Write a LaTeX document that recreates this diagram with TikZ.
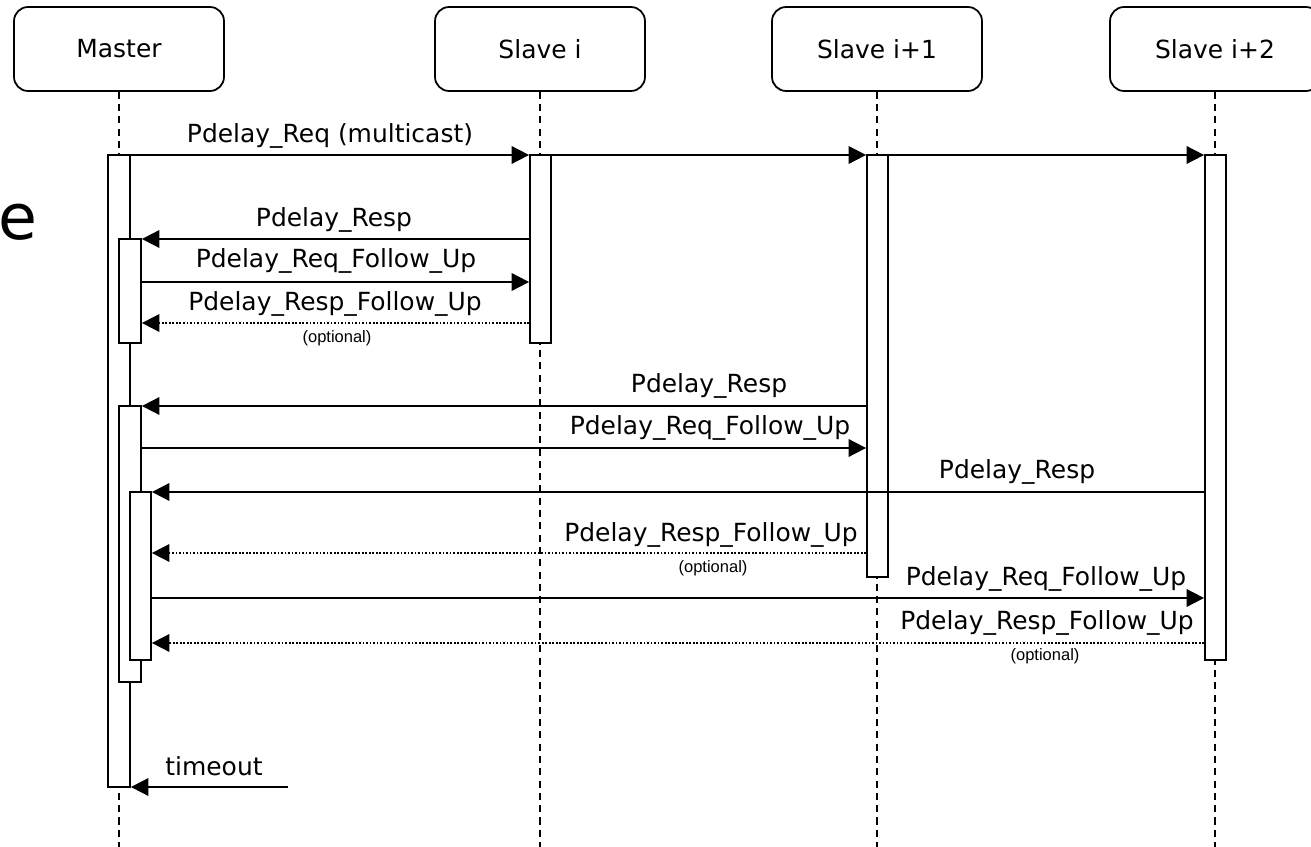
\documentclass[tikz,border=0pt]{standalone}
\usepackage{fontspec}
\setmainfont{DejaVu Sans}
\newfontfamily\optfont{Liberation Sans}
\usetikzlibrary{arrows.meta, fit, math}

\newcommand\msgfont{\fontsize{14.2}{17}\selectfont}

\tikzset{
  head/.style={draw, rounded corners=8pt, minimum width=4.2cm, minimum height=1.68cm, font=\msgfont},
  life/.style={line width=0.8pt, dash pattern=on 4pt off 3pt},
  act/.style={draw, fill=white, inner sep=0pt},
  opt/.style={densely dotted},
  lbl/.style={anchor=base, inner sep=0pt, font=\msgfont},
  note/.style={inner sep=0pt, font=\optfont\fontsize{9.4}{11}\selectfont}
}

\begin{document}
\begin{tikzpicture}[x=0.02cm, y=-0.02cm, >={Triangle[length=10pt,width=10pt]}, line width=1pt]

\tikzmath{
  \xm = 119; \xa = 540; \xb = 877; \xc = 1215;
  \ybot = 847;
}

\useasboundingbox (0,0) rectangle (1311,\ybot);

\node[head] (master) at (\xm,49) {Master};
\node[head] (slavei) at (\xa,49) {Slave i};
\node[head] (slaveii) at (\xb,49) {Slave i+1};
\node[head] (slaveiii) at (\xc,49) {Slave i+2};

\node[anchor=base west, inner sep=0pt, font=\fontsize{36}{36}\selectfont] (stray) at (-2,240) {e};

% lifelines
\foreach \n in {master, slavei, slaveii, slaveiii}
  \draw[life] (\n) -- (\n |- 0,\ybot);

% activations
\node[act, fit={(108,155) (130,787)}] (mact) {};
\node[act, fit={(119,239) (141,343)}] (mact1) {};
\node[act, fit={(119,406) (141,682)}] (mact2) {};
\node[act, fit={(130,492) (151,660)}] (mact3) {};
\node[act, fit={(530,155) (551,343)}] (sact) {};
\node[act, fit={(867,155) (888,577)}] (sact1) {};
\node[act, fit={(1205,155) (1226,660)}] (sact2) {};

% multicast request
\draw[->] (mact.west |- 0,155) -- (sact.west |- 0,155);
\draw[->] (sact.east |- 0,155) -- (sact1.west |- 0,155);
\draw[->] (sact1.east |- 0,155) -- (sact2.west |- 0,155);
\node[lbl] (req) at (330,143) {Pdelay\_Req (multicast)};

% slave i
\draw[->] (sact.west |- 0,239) -- (mact1.east |- 0,239);
\node[lbl] (resp1) at (334,227) {Pdelay\_Resp};
\draw[->] (mact1.east |- 0,282) -- (sact.west |- 0,282);
\node[lbl] (rfu1) at (336,268) {Pdelay\_Req\_Follow\_Up};
\draw[->, opt] (sact.west |- 0,323) -- (mact1.east |- 0,323);
\node[lbl] (pfu1) at (335,311) {Pdelay\_Resp\_Follow\_Up};
\node[note] (opt1) at (337,338) {(optional)};

% slave i+1 and i+2
\draw[->] (sact1.west |- 0,406) -- (mact2.east |- 0,406);
\node[lbl] (resp2) at (709,393) {Pdelay\_Resp};
\draw[->] (mact2.east |- 0,448) -- (sact1.west |- 0,448);
\node[lbl] (rfu2) at (710,435) {Pdelay\_Req\_Follow\_Up};
\draw[->] (sact2.west |- 0,492) -- (mact3.east |- 0,492);
\node[lbl] (resp3) at (1017,479) {Pdelay\_Resp};
\draw[->, opt] (sact1.west |- 0,553) -- (mact3.east |- 0,553);
\node[lbl] (pfu2) at (711,541) {Pdelay\_Resp\_Follow\_Up};
\node[note] (opt2) at (713,568) {(optional)};
\draw[->] (mact3.east |- 0,598) -- (sact2.west |- 0,598);
\node[lbl] (rfu3) at (1046,585) {Pdelay\_Req\_Follow\_Up};
\draw[->, opt] (sact2.west |- 0,643) -- (mact3.east |- 0,643);
\node[lbl] (pfu3) at (1047,629) {Pdelay\_Resp\_Follow\_Up};
\node[note] (opt3) at (1045,656) {(optional)};

% timeout
\coordinate (tstart) at (288,787);
\draw[->] (tstart) -- (mact.east |- tstart);
\node[lbl] (tout) at (214,775) {timeout};

\end{tikzpicture}
\end{document}
